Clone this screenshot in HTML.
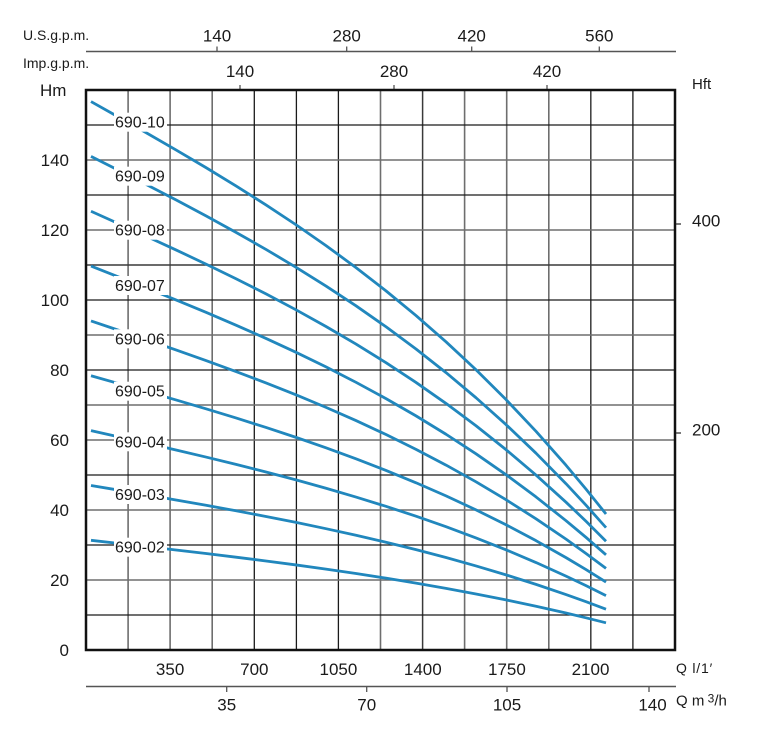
<!DOCTYPE html>
<html>
<head>
<meta charset="utf-8">
<style>
html,body{margin:0;padding:0;background:#fff;}
svg{display:block;}
text{font-family:"Liberation Sans",sans-serif;fill:#1a1a1a;}
</style>
</head>
<body>
<svg width="773" height="751" viewBox="0 0 773 751" xmlns="http://www.w3.org/2000/svg">
<rect width="773" height="751" fill="#fff"/>

<!-- top axes -->
<text x="23" y="40" font-size="14">U.S.g.p.m.</text>
<line x1="86" y1="51.5" x2="676" y2="51.5" stroke="#555" stroke-width="1.5"/>
<g stroke="#555" stroke-width="1.3">
<line x1="217" y1="46.5" x2="217" y2="51.5"/>
<line x1="346.7" y1="46.5" x2="346.7" y2="51.5"/>
<line x1="471.7" y1="46.5" x2="471.7" y2="51.5"/>
<line x1="599.3" y1="46.5" x2="599.3" y2="51.5"/>
</g>
<g font-size="17" text-anchor="middle">
<text x="217" y="41.5">140</text>
<text x="346.7" y="41.5">280</text>
<text x="471.7" y="41.5">420</text>
<text x="599.3" y="41.5">560</text>
</g>

<text x="23" y="68" font-size="14">Imp.g.p.m.</text>
<g stroke="#555" stroke-width="1.3">
<line x1="240" y1="85" x2="240" y2="90"/>
<line x1="394" y1="85" x2="394" y2="90"/>
<line x1="547" y1="85" x2="547" y2="90"/>
</g>
<g font-size="17" text-anchor="middle">
<text x="240" y="77">140</text>
<text x="394" y="77">280</text>
<text x="547" y="77">420</text>
</g>

<text x="40" y="96" font-size="17">Hm</text>
<text x="692" y="89" font-size="15">Hft</text>

<!-- grid -->
<g fill="none">
<line x1="128.1" y1="90" x2="128.1" y2="650" stroke="#6e6e6e" stroke-width="1.6"/>
<line x1="170.1" y1="90" x2="170.1" y2="650" stroke="#6e6e6e" stroke-width="1.6"/>
<line x1="212.2" y1="90" x2="212.2" y2="650" stroke="#6e6e6e" stroke-width="1.6"/>
<line x1="254.3" y1="90" x2="254.3" y2="650" stroke="#1a1a1a" stroke-width="1.3"/>
<line x1="296.4" y1="90" x2="296.4" y2="650" stroke="#1a1a1a" stroke-width="1.3"/>
<line x1="338.4" y1="90" x2="338.4" y2="650" stroke="#1a1a1a" stroke-width="1.3"/>
<line x1="380.5" y1="90" x2="380.5" y2="650" stroke="#6e6e6e" stroke-width="1.6"/>
<line x1="422.6" y1="90" x2="422.6" y2="650" stroke="#3a3a3a" stroke-width="1.5"/>
<line x1="464.6" y1="90" x2="464.6" y2="650" stroke="#6e6e6e" stroke-width="1.6"/>
<line x1="506.7" y1="90" x2="506.7" y2="650" stroke="#6e6e6e" stroke-width="1.6"/>
<line x1="548.8" y1="90" x2="548.8" y2="650" stroke="#6e6e6e" stroke-width="1.6"/>
<line x1="590.8" y1="90" x2="590.8" y2="650" stroke="#3a3a3a" stroke-width="1.5"/>
<line x1="632.9" y1="90" x2="632.9" y2="650" stroke="#1a1a1a" stroke-width="1.3"/>

<line x1="86" y1="615" x2="675" y2="615" stroke="#1a1a1a" stroke-width="1.3"/>
<line x1="86" y1="580" x2="675" y2="580" stroke="#6e6e6e" stroke-width="1.6"/>
<line x1="86" y1="545" x2="675" y2="545" stroke="#1a1a1a" stroke-width="1.3"/>
<line x1="86" y1="510" x2="675" y2="510" stroke="#6e6e6e" stroke-width="1.6"/>
<line x1="86" y1="475" x2="675" y2="475" stroke="#1a1a1a" stroke-width="1.3"/>
<line x1="86" y1="440" x2="675" y2="440" stroke="#6e6e6e" stroke-width="1.6"/>
<line x1="86" y1="405" x2="675" y2="405" stroke="#6e6e6e" stroke-width="1.6"/>
<line x1="86" y1="370" x2="675" y2="370" stroke="#1a1a1a" stroke-width="1.3"/>
<line x1="86" y1="335" x2="675" y2="335" stroke="#6e6e6e" stroke-width="1.6"/>
<line x1="86" y1="300" x2="675" y2="300" stroke="#1a1a1a" stroke-width="1.3"/>
<line x1="86" y1="265" x2="675" y2="265" stroke="#3a3a3a" stroke-width="1.5"/>
<line x1="86" y1="230" x2="675" y2="230" stroke="#6e6e6e" stroke-width="1.6"/>
<line x1="86" y1="195" x2="675" y2="195" stroke="#1a1a1a" stroke-width="1.3"/>
<line x1="86" y1="160" x2="675" y2="160" stroke="#6e6e6e" stroke-width="1.6"/>
<line x1="86" y1="125" x2="675" y2="125" stroke="#1a1a1a" stroke-width="1.3"/>
</g>

<!-- curves -->
<g fill="none" stroke="#2187bd" stroke-width="2.8" stroke-linejoin="round">
<polyline vector-effect="non-scaling-stroke" transform="translate(86,650) scale(1,-35)" points="5,15.670 30,15.268 60,14.782 90,14.288 120,13.782 150,13.259 180,12.717 210,12.150 240,11.554 270,10.926 300,10.261 330,9.556 360,8.806 390,8.008 420,7.156 450,6.248 480,5.279 500,4.597 520,3.885"/>
<polyline vector-effect="non-scaling-stroke" transform="translate(86,650) scale(1,-31.5)" points="5,15.670 30,15.268 60,14.782 90,14.288 120,13.782 150,13.259 180,12.717 210,12.150 240,11.554 270,10.926 300,10.261 330,9.556 360,8.806 390,8.008 420,7.156 450,6.248 480,5.279 500,4.597 520,3.885"/>
<polyline vector-effect="non-scaling-stroke" transform="translate(86,650) scale(1,-28)" points="5,15.670 30,15.268 60,14.782 90,14.288 120,13.782 150,13.259 180,12.717 210,12.150 240,11.554 270,10.926 300,10.261 330,9.556 360,8.806 390,8.008 420,7.156 450,6.248 480,5.279 500,4.597 520,3.885"/>
<polyline vector-effect="non-scaling-stroke" transform="translate(86,650) scale(1,-24.5)" points="5,15.670 30,15.268 60,14.782 90,14.288 120,13.782 150,13.259 180,12.717 210,12.150 240,11.554 270,10.926 300,10.261 330,9.556 360,8.806 390,8.008 420,7.156 450,6.248 480,5.279 500,4.597 520,3.885"/>
<polyline vector-effect="non-scaling-stroke" transform="translate(86,650) scale(1,-21)" points="5,15.670 30,15.268 60,14.782 90,14.288 120,13.782 150,13.259 180,12.717 210,12.150 240,11.554 270,10.926 300,10.261 330,9.556 360,8.806 390,8.008 420,7.156 450,6.248 480,5.279 500,4.597 520,3.885"/>
<polyline vector-effect="non-scaling-stroke" transform="translate(86,650) scale(1,-17.5)" points="5,15.670 30,15.268 60,14.782 90,14.288 120,13.782 150,13.259 180,12.717 210,12.150 240,11.554 270,10.926 300,10.261 330,9.556 360,8.806 390,8.008 420,7.156 450,6.248 480,5.279 500,4.597 520,3.885"/>
<polyline vector-effect="non-scaling-stroke" transform="translate(86,650) scale(1,-14)" points="5,15.670 30,15.268 60,14.782 90,14.288 120,13.782 150,13.259 180,12.717 210,12.150 240,11.554 270,10.926 300,10.261 330,9.556 360,8.806 390,8.008 420,7.156 450,6.248 480,5.279 500,4.597 520,3.885"/>
<polyline vector-effect="non-scaling-stroke" transform="translate(86,650) scale(1,-10.5)" points="5,15.670 30,15.268 60,14.782 90,14.288 120,13.782 150,13.259 180,12.717 210,12.150 240,11.554 270,10.926 300,10.261 330,9.556 360,8.806 390,8.008 420,7.156 450,6.248 480,5.279 500,4.597 520,3.885"/>
<polyline vector-effect="non-scaling-stroke" transform="translate(86,650) scale(1,-7)" points="5,15.670 30,15.268 60,14.782 90,14.288 120,13.782 150,13.259 180,12.717 210,12.150 240,11.554 270,10.926 300,10.261 330,9.556 360,8.806 390,8.008 420,7.156 450,6.248 480,5.279 500,4.597 520,3.885"/>
</g>

<!-- curve labels -->
<g fill="#fff">
<rect x="114" y="112.7" width="53" height="19"/>
<rect x="114" y="166.7" width="53" height="19"/>
<rect x="114" y="220.7" width="53" height="19"/>
<rect x="114" y="276" width="53" height="19"/>
<rect x="114" y="329.3" width="53" height="19"/>
<rect x="114" y="381.7" width="53" height="19"/>
<rect x="114" y="432.3" width="53" height="19"/>
<rect x="114" y="485" width="53" height="19"/>
<rect x="114" y="537.7" width="53" height="19"/>
</g>
<g font-size="16">
<text x="115" y="127.7">690-10</text>
<text x="115" y="181.7">690-09</text>
<text x="115" y="235.7">690-08</text>
<text x="115" y="291">690-07</text>
<text x="115" y="344.3">690-06</text>
<text x="115" y="396.7">690-05</text>
<text x="115" y="447.3">690-04</text>
<text x="115" y="500">690-03</text>
<text x="115" y="552.7">690-02</text>
</g>

<!-- frame -->
<rect x="86" y="90" width="589" height="560" fill="none" stroke="#111" stroke-width="2.5"/>

<!-- Y labels -->
<g font-size="17" text-anchor="end">
<text x="69" y="656">0</text>
<text x="69" y="586">20</text>
<text x="69" y="516">40</text>
<text x="69" y="446">60</text>
<text x="69" y="376">80</text>
<text x="69" y="306">100</text>
<text x="69" y="236">120</text>
<text x="69" y="166">140</text>
</g>

<!-- Hft -->
<g stroke="#333" stroke-width="1.3">
<line x1="676" y1="224" x2="681" y2="224"/>
<line x1="676" y1="433" x2="681" y2="433"/>
</g>
<text x="692" y="226.7" font-size="17">400</text>
<text x="692" y="435.7" font-size="17">200</text>

<!-- X labels l/min -->
<g font-size="17" text-anchor="middle">
<text x="170.1" y="675">350</text>
<text x="254.3" y="675">700</text>
<text x="338.4" y="675">1050</text>
<text x="422.8" y="675">1400</text>
<text x="506.9" y="675">1750</text>
<text x="590.5" y="675">2100</text>
</g>
<text x="676" y="673" font-size="14" letter-spacing="0.8">Q l/1′</text>

<!-- bottom axis m3/h -->
<line x1="86" y1="686.5" x2="676" y2="686.5" stroke="#555" stroke-width="1.5"/>
<g stroke="#555" stroke-width="1.3">
<line x1="226.7" y1="686.5" x2="226.7" y2="692"/>
<line x1="366.7" y1="686.5" x2="366.7" y2="692"/>
<line x1="507" y1="686.5" x2="507" y2="692"/>
<line x1="649" y1="686.5" x2="649" y2="692"/>
</g>
<g font-size="17" text-anchor="middle">
<text x="226.7" y="710.7">35</text>
<text x="366.7" y="710.7">70</text>
<text x="507" y="710.7">105</text>
<text x="652.5" y="710.7">140</text>
</g>
<text x="676" y="705.7" font-size="15">Q m<tspan font-size="12" dy="-3"> 3</tspan><tspan dy="3">/h</tspan></text>
</svg>
</body>
</html>
